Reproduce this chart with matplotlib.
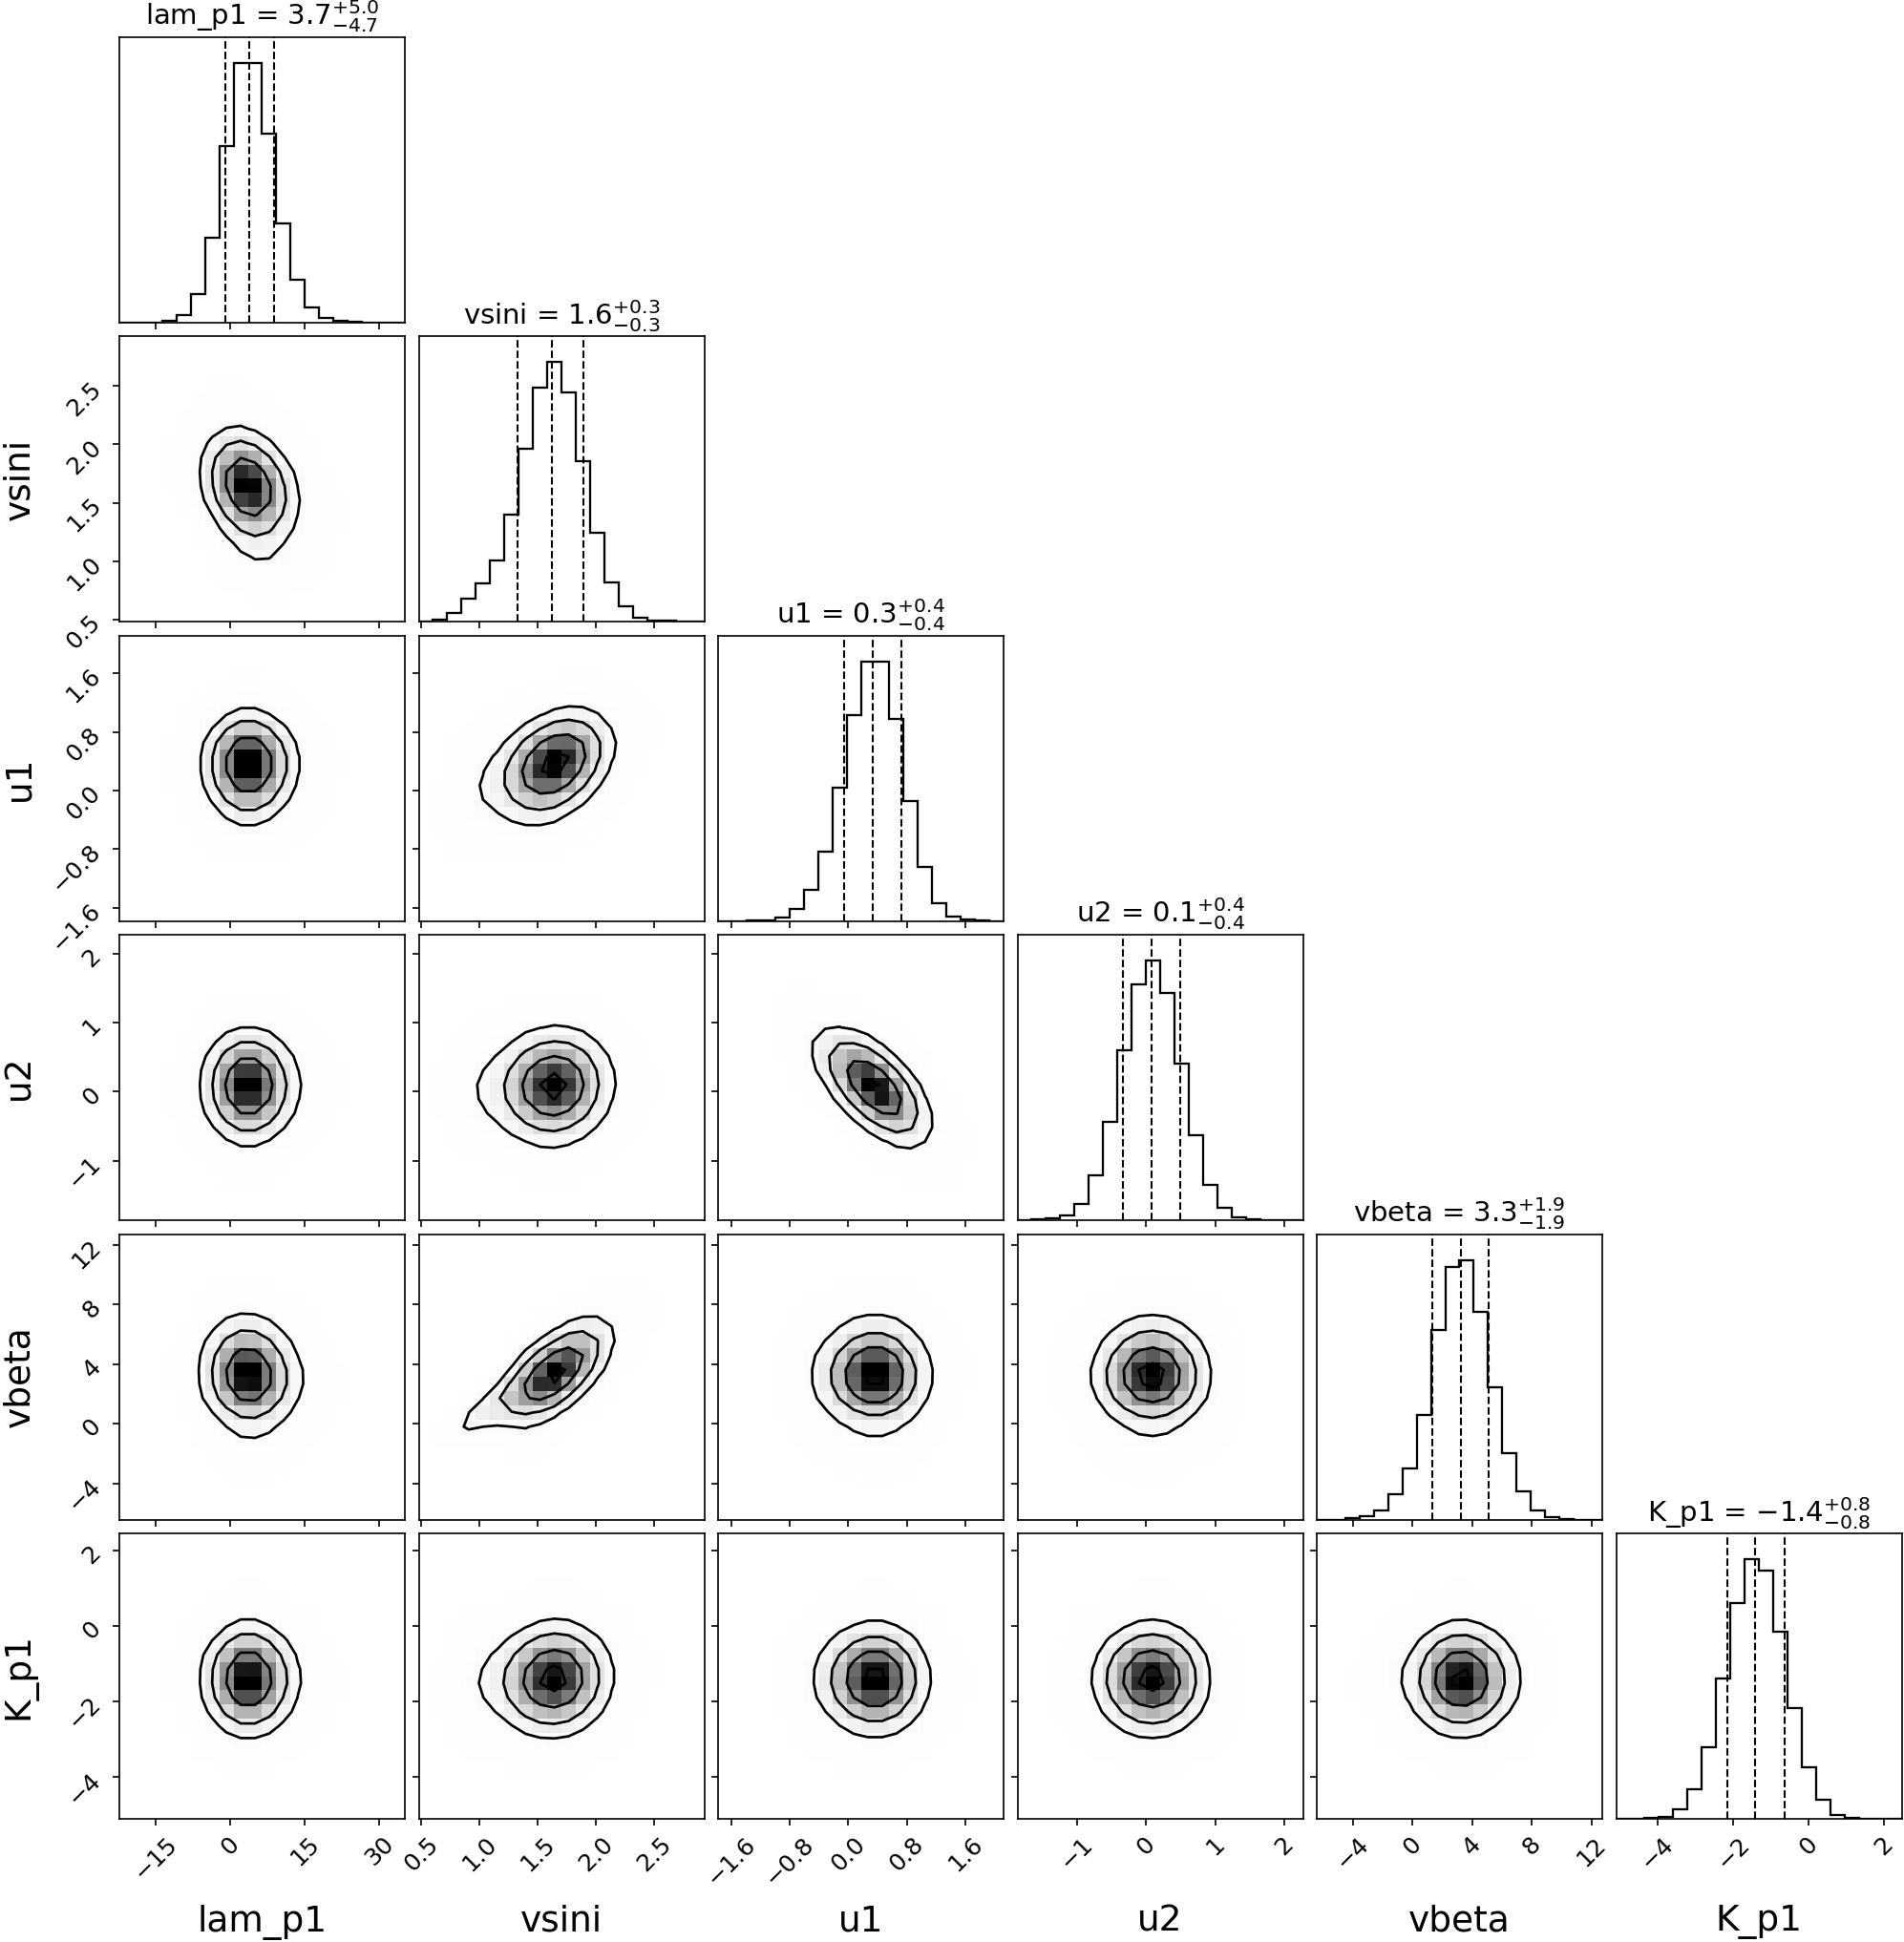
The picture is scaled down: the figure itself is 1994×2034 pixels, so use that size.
import numpy as np
import matplotlib
matplotlib.use("Agg")
import matplotlib.pyplot as plt
from matplotlib.colors import LinearSegmentedColormap

# ---------------- data ----------------
labels = ["lam_p1", "vsini", "u1", "u2", "vbeta", "K_p1"]

range_lam = (-22.4, 35.1)
range_vsini = (0.48, 2.93)
range_u1 = (-1.78, 2.12)
range_u2 = (-1.86, 2.27)
range_vbeta = (-6.43, 12.73)
range_kp1 = (-5.10, 2.46)

# 20-bin marginal histogram heights (relative counts)
hist_lam = [0, 0, 0, 5, 21, 87, 265, 553, 813, 815, 591, 311, 132, 45, 13, 4, 1, 0, 0, 0]
hist_vsini = [0, 5, 28, 73, 121, 193, 335, 542, 736, 815, 720, 503, 278, 124, 47, 12, 4, 2, 0, 0]
hist_u1 = [0, 0, 1, 2, 10, 37, 97, 217, 418, 646, 813, 813, 633, 374, 168, 54, 14, 4, 1, 0]
hist_u2 = [0, 3, 6, 16, 52, 140, 308, 533, 742, 816, 715, 491, 266, 112, 40, 10, 3, 1, 0, 0]
hist_vbeta = [0, 0, 3, 7, 23, 61, 123, 253, 457, 609, 626, 502, 318, 161, 67, 21, 6, 2, 0, 0]
hist_kp1 = [0, 0, 2, 5, 23, 70, 173, 337, 517, 623, 595, 450, 265, 123, 45, 10, 3, 1, 0, 0]

# 16th / 50th / 84th percentiles (dashed lines)
q16 = [-1.0, 1.33, -0.06, -0.34, 1.35, -2.16]
q50 = [3.7, 1.62, 0.33, 0.08, 3.25, -1.41]
q84 = [8.7, 1.89, 0.72, 0.50, 5.13, -0.63]

# title numbers
title_med = ["3.7", "1.6", "0.3", "0.1", "3.3", "-1.4"]
title_minus = ["4.7", "0.3", "0.4", "0.4", "1.9", "0.8"]
title_plus = ["5.0", "0.3", "0.4", "0.4", "1.9", "0.8"]

# tick positions
ticks_lam = [-15, 0, 15, 30]
ticks_vsini = [0.5, 1.0, 1.5, 2.0, 2.5]
ticks_u1 = [-1.6, -0.8, 0.0, 0.8, 1.6]
ticks_u2 = [-1, 0, 1, 2]
ticks_vbeta = [-4, 0, 4, 8, 12]
ticks_kp1 = [-4, -2, 0, 2]

# pairwise correlations (lower triangle, row i vs columns 0..i-1)
corr_vsini = [-0.25]
corr_u1 = [0.0, 0.35]
corr_u2 = [0.0, 0.05, -0.6]
corr_vbeta = [-0.05, 0.65, 0.0, 0.0]
corr_kp1 = [0.0, 0.05, 0.0, 0.0, 0.0]

# conditional spread in the low tail of the column variable (None = plain)
tailsd_vsini = [None]
tailsd_u1 = [None, None]
tailsd_u2 = [None, None, None]
tailsd_vbeta = [None, 0.3, None, None]
tailsd_kp1 = [None, None, None, None, None]

ranges = [range_lam, range_vsini, range_u1, range_u2, range_vbeta, range_kp1]
hists = [hist_lam, hist_vsini, hist_u1, hist_u2, hist_vbeta, hist_kp1]
ticks = [ticks_lam, ticks_vsini, ticks_u1, ticks_u2, ticks_vbeta, ticks_kp1]
corr = [None, corr_vsini, corr_u1, corr_u2, corr_vbeta, corr_kp1]
tailsd = [None, tailsd_vsini, tailsd_u1, tailsd_u2, tailsd_vbeta, tailsd_kp1]

# ---------------- figure ----------------
DPI = 150
W, H = 1994, 2034
fig = plt.figure(figsize=(W / DPI, H / DPI), dpi=DPI)

K = len(labels)
left0, top0, size, step = 125.0, 38.5, 299.0, 313.5
nb = 20
levels = 1.0 - np.exp(-0.5 * np.arange(0.5, 2.1, 0.5) ** 2)
density_cmap = LinearSegmentedColormap.from_list("density_cmap", ["k", (1, 1, 1, 0)])

TICK_FS = 12
TITLE_FS = 14
LABEL_FS = 18
LW = 1.0
CLW = 1.3


def edges_of(k):
    return np.linspace(ranges[k][0], ranges[k][1], nb + 1)


def zscores(k):
    e = edges_of(k)
    c = 0.5 * (e[1:] + e[:-1])
    return np.where(c < q50[k], (c - q50[k]) / (q50[k] - q16[k]),
                    (c - q50[k]) / (q84[k] - q50[k]))


def style_axis(ax):
    ax.tick_params(labelsize=TICK_FS, width=0.8, length=3.5)
    for s in ax.spines.values():
        s.set_linewidth(0.8)


for i in range(K):
    for j in range(K):
        x0 = (left0 + j * step) / W
        y0 = 1 - (top0 + i * step + size) / H
        if j > i:
            continue
        ax = fig.add_axes([x0, y0, size / W, size / H])
        style_axis(ax)
        if i == j:
            e = edges_of(i)
            c = 0.5 * (e[1:] + e[:-1])
            ax.hist(c, bins=e, weights=hists[i], histtype="step", color="k", lw=LW * 1.1)
            for q in (q16[i], q50[i], q84[i]):
                ax.axvline(q, ls="dashed", color="k", lw=LW)
            ax.set_xlim(ranges[i])
            ax.set_ylim(0, 1.1 * max(hists[i]))
            ax.set_yticks([])
            ax.set_title(r"{0} = ${1}_{{-{2}}}^{{+{3}}}$".format(
                labels[i], title_med[i], title_minus[i], title_plus[i]),
                fontsize=TITLE_FS)
        else:
            # 2D density from marginals (read) coupled by read correlation
            rho = corr[i][j]
            px = np.asarray(hists[j], float)[:, None]
            py = np.asarray(hists[i], float)[None, :]
            zx = zscores(j)[:, None]
            zy = zscores(i)[None, :]
            sd = np.sqrt(1 - rho ** 2) * np.ones_like(zx)
            if tailsd[i][j] is not None:
                w = np.clip((-zx - 0.8) / 1.8, 0, 1)
                sd = sd * (1 - w) + tailsd[i][j] * w
            cond = np.exp(-0.5 * ((zy - rho * zx) / sd) ** 2) / sd
            Hd = px * py * cond / np.exp(-0.5 * zy ** 2)
            ex, ey = edges_of(j), edges_of(i)
            ax.pcolormesh(ex, ey, (Hd.max() - Hd).T, cmap=density_cmap, shading="flat")
            # contour levels as in corner
            Hf = np.sort(Hd.flatten())[::-1]
            sm = np.cumsum(Hf)
            sm /= sm[-1]
            V = np.empty(len(levels))
            for n, v0 in enumerate(levels):
                sel = Hf[sm <= v0]
                V[n] = sel[-1] if len(sel) else Hf[0]
            V.sort()
            cx = 0.5 * (ex[1:] + ex[:-1])
            cy = 0.5 * (ey[1:] + ey[:-1])
            ax.contour(cx, cy, Hd.T, V, colors="k", linewidths=CLW)
            ax.set_xlim(ranges[j])
            ax.set_ylim(ranges[i])
            ax.set_yticks(ticks[i])
            if j == 0:
                for lab in ax.get_yticklabels():
                    lab.set_rotation(45)
                ax.set_ylabel(labels[i], fontsize=LABEL_FS)
                ax.yaxis.set_label_coords(-0.29, 0.5)
            else:
                ax.set_yticklabels([])
        ax.set_xticks(ticks[j])
        if i == K - 1:
            for lab in ax.get_xticklabels():
                lab.set_rotation(45)
            ax.set_xlabel(labels[j], fontsize=LABEL_FS)
            ax.xaxis.set_label_coords(0.5, -0.3)
        else:
            ax.set_xticklabels([])

fig.savefig("out.png", dpi=DPI)
